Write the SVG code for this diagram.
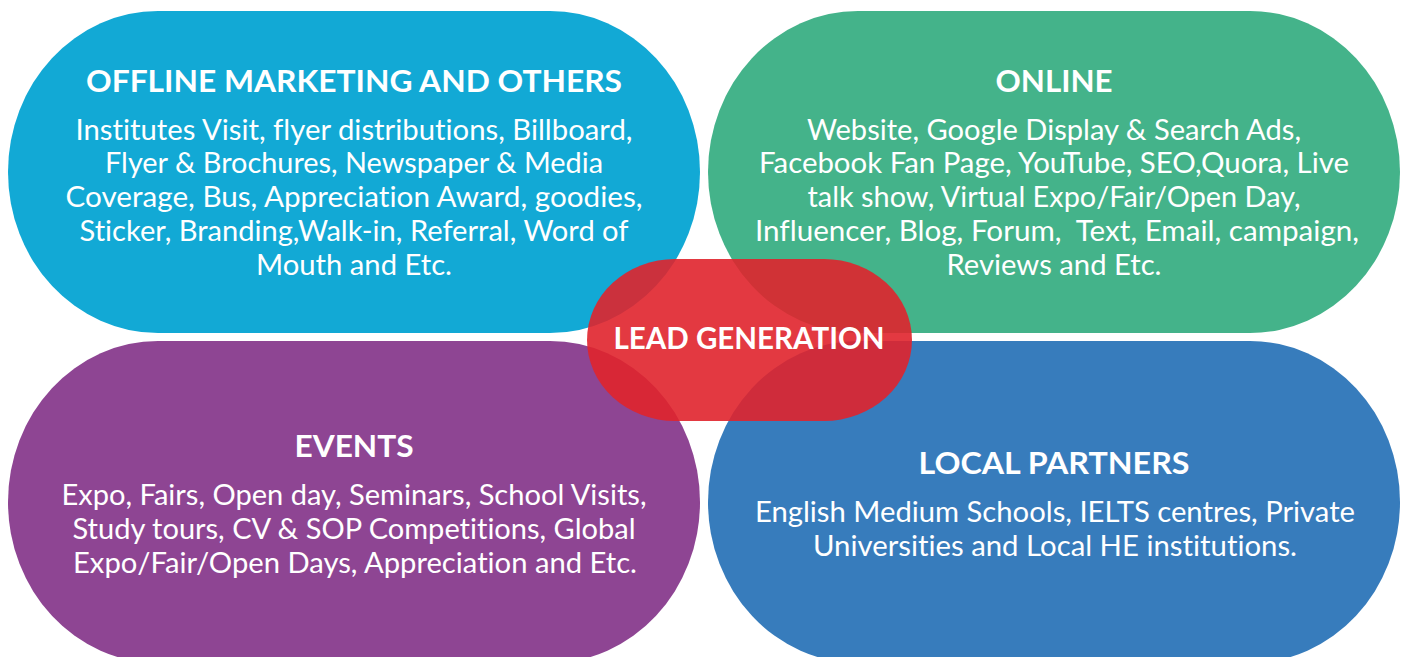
<svg xmlns="http://www.w3.org/2000/svg" width="1407" height="657" viewBox="0 0 1407 657">
<style>
.t{font-family:Lato,"Open Sans","Liberation Sans",sans-serif;fill:#ffffff;text-anchor:middle;font-variant-ligatures:none;font-feature-settings:"liga" 0,"clig" 0,"dlig" 0}
.h{font-size:30px;font-weight:700}
.b{font-size:28px;font-weight:400}
</style>
<rect width="1407" height="657" fill="#ffffff"/>
<g id="offline">
<rect x="8" y="11" width="692" height="322" rx="150" ry="161" fill="#12A9D5"/>
<text class="t h" x="354" y="92" textLength="536" lengthAdjust="spacingAndGlyphs">OFFLINE MARKETING AND OTHERS</text>
<text class="t b" x="354" y="140" textLength="557" lengthAdjust="spacingAndGlyphs">Institutes Visit, flyer distributions, Billboard,</text>
<text class="t b" x="354" y="173" textLength="498" lengthAdjust="spacingAndGlyphs">Flyer &amp; Brochures, Newspaper &amp; Media</text>
<text class="t b" x="354" y="207" textLength="577" lengthAdjust="spacingAndGlyphs">Coverage, Bus, Appreciation Award, goodies,</text>
<text class="t b" x="354" y="241" textLength="549" lengthAdjust="spacingAndGlyphs">Sticker, Branding,Walk-in, Referral, Word of</text>
<text class="t b" x="354" y="275" textLength="196" lengthAdjust="spacingAndGlyphs">Mouth and Etc.</text>
</g>
<g id="online">
<rect x="708" y="11" width="692" height="322" rx="150" ry="161" fill="#44B38A"/>
<text class="t h" x="1054" y="92" textLength="117" lengthAdjust="spacingAndGlyphs">ONLINE</text>
<text class="t b" x="1054" y="140" textLength="494" lengthAdjust="spacingAndGlyphs">Website, Google Display &amp; Search Ads,</text>
<text class="t b" x="1054" y="173" textLength="590" lengthAdjust="spacingAndGlyphs">Facebook Fan Page, YouTube, SEO,Quora, Live</text>
<text class="t b" x="1054" y="207" textLength="493" lengthAdjust="spacingAndGlyphs">talk show, Virtual Expo/Fair/Open Day,</text>
<text class="t b" x="1057" y="241" textLength="604" lengthAdjust="spacingAndGlyphs" xml:space="preserve">Influencer, Blog, Forum,  Text, Email, campaign,</text>
<text class="t b" x="1054" y="275" textLength="215" lengthAdjust="spacingAndGlyphs">Reviews and Etc.</text>
</g>
<g id="events">
<rect x="8" y="341" width="692" height="322" rx="150" ry="161" fill="#8E4593"/>
<text class="t h" x="354" y="457" textLength="119" lengthAdjust="spacingAndGlyphs">EVENTS</text>
<text class="t b" x="354" y="505" textLength="585" lengthAdjust="spacingAndGlyphs">Expo, Fairs, Open day, Seminars, School Visits,</text>
<text class="t b" x="354" y="539" textLength="563" lengthAdjust="spacingAndGlyphs">Study tours, CV &amp; SOP Competitions, Global</text>
<text class="t b" x="355" y="573" textLength="564" lengthAdjust="spacingAndGlyphs">Expo/Fair/Open Days, Appreciation and Etc.</text>
</g>
<g id="local-partners">
<rect x="708" y="341" width="692" height="322" rx="150" ry="161" fill="#377CBC"/>
<text class="t h" x="1054" y="474" textLength="271" lengthAdjust="spacingAndGlyphs">LOCAL PARTNERS</text>
<text class="t b" x="1055" y="522" textLength="600" lengthAdjust="spacingAndGlyphs">English Medium Schools, IELTS centres, Private</text>
<text class="t b" x="1055" y="556" textLength="484" lengthAdjust="spacingAndGlyphs">Universities and Local HE institutions.</text>
</g>
<g id="connectors"></g>
<g id="lead-generation">
<rect x="587" y="259" width="325" height="162" rx="88" ry="81" fill="#E0232C" fill-opacity="0.9"/>
<text class="t h" x="749" y="349" textLength="271" lengthAdjust="spacingAndGlyphs">LEAD GENERATION</text>
</g>
</svg>
